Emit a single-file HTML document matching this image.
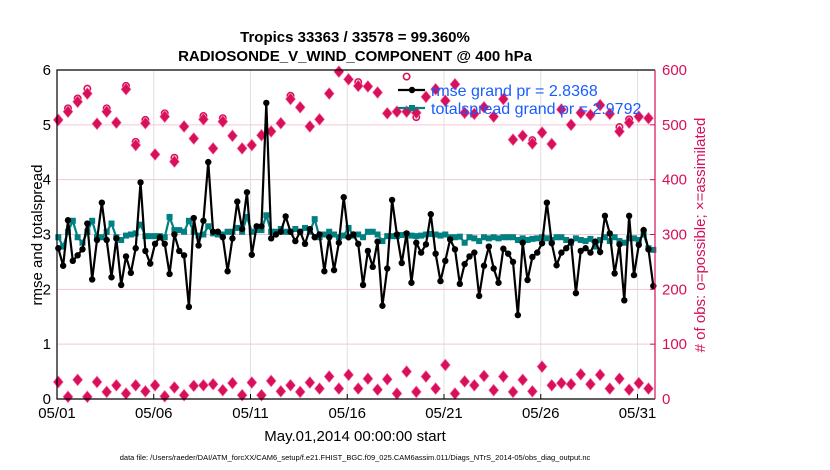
<!DOCTYPE html>
<html><head><meta charset="utf-8">
<style>
html,body{margin:0;padding:0;background:#fff;}
svg{display:block;font-family:"Liberation Sans",sans-serif;}
</style></head>
<body>
<svg id="chart" width="830" height="470" viewBox="0 0 830 470">
<text x="355" y="42" text-anchor="middle" font-size="15" font-weight="bold">Tropics 33363 / 33578 = 99.360%</text>
<text x="355" y="61" text-anchor="middle" font-size="15" font-weight="bold">RADIOSONDE_V_WIND_COMPONENT @ 400 hPa</text>
<g id="grid"></g>
<g id="marks"></g>
<g id="axes"></g>
<text transform="translate(42,235) rotate(-90)" text-anchor="middle" font-size="15">rmse and totalspread</text>
<text transform="translate(705,235) rotate(-90)" text-anchor="middle" font-size="15" fill="#d6105a"># of obs: o=possible; ×=assimilated</text>
<text x="355" y="441" text-anchor="middle" font-size="15">May.01,2014 00:00:00 start</text>
<text x="355" y="460" text-anchor="middle" font-size="7.5">data file: /Users/raeder/DAI/ATM_forcXX/CAM6_setup/f.e21.FHIST_BGC.f09_025.CAM6assim.011/Diags_NTrS_2014-05/obs_diag_output.nc</text>
<g>
<line x1="398" y1="90" x2="425" y2="90" stroke="#000" stroke-width="2.2"/>
<circle cx="412" cy="90" r="3.2" fill="#000"/>
<text x="431" y="96" font-size="16" fill="#1a5cff">rmse grand pr = 2.8368</text>
<line x1="398" y1="108" x2="425" y2="108" stroke="#008080" stroke-width="2.2"/>
<rect x="409" y="105" width="6" height="6" fill="#008080"/>
<text x="431" y="114" font-size="16" fill="#1a5cff">totalspread grand pr = 2.9792</text>
</g>
</svg>
<script>
const xTickLabels = ["05/01","05/06","05/11","05/16","05/21","05/26","05/31"];
const xTickDays = [0,5,10,15,20,25,30];
const yTicks = [0,1,2,3,4,5,6];
const y2Ticks = [0,100,200,300,400,500,600];
const rmse = [2.75,2.43,3.26,2.52,2.62,2.73,3.2,2.18,2.9,3.58,2.9,2.22,2.93,2.08,2.6,2.3,2.75,3.95,2.7,2.47,2.83,2.95,2.83,2.28,3.0,2.7,2.62,1.68,3.3,2.8,3.25,4.32,3.05,3.05,2.95,2.33,2.93,3.6,3.1,3.77,2.63,3.15,3.15,5.4,2.93,3.0,3.05,3.33,3.05,2.88,3.05,2.83,3.1,2.95,3.0,2.33,2.95,2.35,2.85,3.68,2.95,3.0,2.83,2.08,2.7,2.41,2.87,1.7,2.38,3.63,3.0,2.48,3.02,2.12,2.85,2.67,2.82,3.37,2.65,2.15,2.52,2.91,2.73,2.1,2.46,2.6,2.67,1.88,2.43,2.78,2.38,2.12,2.74,2.65,2.5,1.53,2.85,2.17,2.59,2.67,2.84,3.58,2.84,2.44,2.67,2.75,2.87,1.93,2.7,2.75,2.67,2.87,2.68,3.34,3.02,2.29,2.82,1.8,3.34,2.26,2.81,3.08,2.73,2.06];
const spread = [2.95,2.78,3.05,3.25,2.95,2.85,3.05,3.25,2.95,2.95,3.05,3.2,2.95,2.9,2.98,3.0,3.02,3.18,2.97,2.97,2.97,2.97,2.95,3.32,3.08,3.08,3.05,3.25,3.05,2.98,3.0,3.15,3.02,3.0,3.0,3.05,3.05,3.12,3.05,3.32,3.05,3.08,3.08,3.35,3.05,3.05,3.1,3.05,3.05,3.1,3.05,3.12,3.05,3.28,2.95,3.0,3.05,3.0,2.95,2.98,3.12,2.98,3.0,2.95,3.05,3.05,3.0,2.88,2.97,2.97,2.97,2.99,3.0,2.98,2.97,2.98,3.0,3.01,3.0,2.98,3.0,2.95,2.95,2.96,2.85,2.95,2.93,2.88,2.95,2.93,2.95,2.93,2.95,2.95,2.95,2.9,2.93,2.9,2.92,2.93,2.95,2.93,2.9,2.95,2.95,2.9,2.85,2.93,2.9,2.88,2.92,2.78,2.9,2.95,2.88,2.95,2.88,2.85,2.93,2.93,2.9,3.0,2.75,2.72];
const obsPossibleTop = [509,530,548,566,502,530,504,571,469,509,446,521,440,497,475,516,457,512,480,457,463,481,488,503,553,532,497,510,557,597,583,578,570,559,521,524,588,514,551,565,544,574,522,520,532,515,547,473,480,472,486,465,528,500,522,518,536,520,496,510,515,512];
const obsAssimTop = [509,524,542,557,502,524,504,565,463,503,446,515,433,497,475,510,457,506,480,457,463,481,488,503,547,532,497,510,557,597,583,571,570,559,521,524,524,522,551,565,544,574,522,520,532,515,547,473,480,466,486,465,528,500,522,518,536,520,488,504,515,512];
const obsPossibleLow = [31,4,35,4,31,13,25,10,25,14,25,5,21,7,24,25,27,16,29,7,30,7,33,14,25,13,30,19,41,19,44,19,37,17,36,10,50,13,41,19,62,10,32,25,42,16,41,13,35,14,59,25,29,27,45,27,44,19,37,17,29,19];
const obsAssimLow = obsPossibleLow.slice();

const L=57, R=655, T=70, B=399;
const xDay = d => L + d*19.35;
const xStep6 = i => xDay(i*0.25) + 1.3;
const xStep12 = j => xDay(j*0.5) + 1.3;
const yL = v => B - (v/6)*(B-T);
const yR = v => B - (v/600)*(B-T);
const NS='http://www.w3.org/2000/svg';
function mk(tag, attrs, parent){const e=document.createElementNS(NS,tag);for(const k in attrs)e.setAttribute(k,attrs[k]);parent.appendChild(e);return e;}
const grid=document.getElementById('grid'), marks=document.getElementById('marks'), axes=document.getElementById('axes');

xTickDays.forEach((d,i)=>{
  const x=xDay(d);
  if(i>0){const g=mk('line',{x1:x,y1:T,x2:x,y2:B,stroke:'#e0e0e0','stroke-width':1},grid);
  
  }
  const t=mk('line',{x1:x,y1:B,x2:x,y2:B-5,stroke:'#000'},axes);
  
  
  const lb=mk('text',{x:x,y:B+19,'text-anchor':'middle','font-size':15},axes);
  lb.textContent=xTickLabels[i];
  
  
});
yTicks.forEach(v=>{
  const y=yL(v);
  if(v>0&&v<6){const g=mk('line',{x1:L,y1:y,x2:R,y2:y,stroke:'#f3c6d8','stroke-width':1},grid);
  
  }
  const lb=mk('text',{x:L-6,y:y+5,'text-anchor':'end','font-size':15},axes);
  lb.textContent=v;
  
  
});
y2Ticks.forEach(v=>{
  const y=yR(v);
  const t=mk('line',{x1:R,y1:y,x2:R-5,y2:y,stroke:'#d6105a'},axes);
  
  
  const lb=mk('text',{x:R+7,y:y+5,'font-size':15,fill:'#d6105a'},axes);
  lb.textContent=v;
  
  
});
const bx=mk('path',{d:`M${R},${T} L${L},${T} L${L},${B} L${R},${B}`,fill:'none',stroke:'#000','stroke-width':1.2},axes);


const rax=mk('line',{x1:R,y1:T,x2:R,y2:B,stroke:'#d6105a','stroke-width':1.2},axes);



function obsMarks(arrP, arrA, name){
  arrP.forEach((v,j)=>{
    const c=mk('circle',{cx:xStep12(j),cy:yR(v),r:3.2,fill:'#fff',stroke:'#d6105a','stroke-width':1.6},marks);
    
    
  });
  arrA.forEach((v,j)=>{
    const x=xStep12(j), y=yR(v);
    const p=mk('path',{d:`M${x},${y-6} L${x+5},${y} L${x},${y+6} L${x-5},${y} Z`,fill:'#d6105a',stroke:'#ff7fb0','stroke-width':0.6},marks);
    
    
  });
}
obsMarks(obsPossibleTop, obsAssimTop, 'obs-top');
obsMarks(obsPossibleLow, obsAssimLow, 'obs-low');

const sp=mk('polyline',{points:spread.map((v,i)=>xStep6(i)+','+yL(v)).join(' '),fill:'none',stroke:'#008080','stroke-width':2.2},marks);


spread.forEach((v,i)=>{
  const r=mk('rect',{x:xStep6(i)-3,y:yL(v)-3,width:6,height:6,fill:'#008080'},marks);
  
  
});
const rl=mk('polyline',{points:rmse.map((v,i)=>xStep6(i)+','+yL(v)).join(' '),fill:'none',stroke:'#000','stroke-width':2.2},marks);


rmse.forEach((v,i)=>{
  const c=mk('circle',{cx:xStep6(i),cy:yL(v),r:3.2,fill:'#000'},marks);
  
  
});
</script>
</body></html>
